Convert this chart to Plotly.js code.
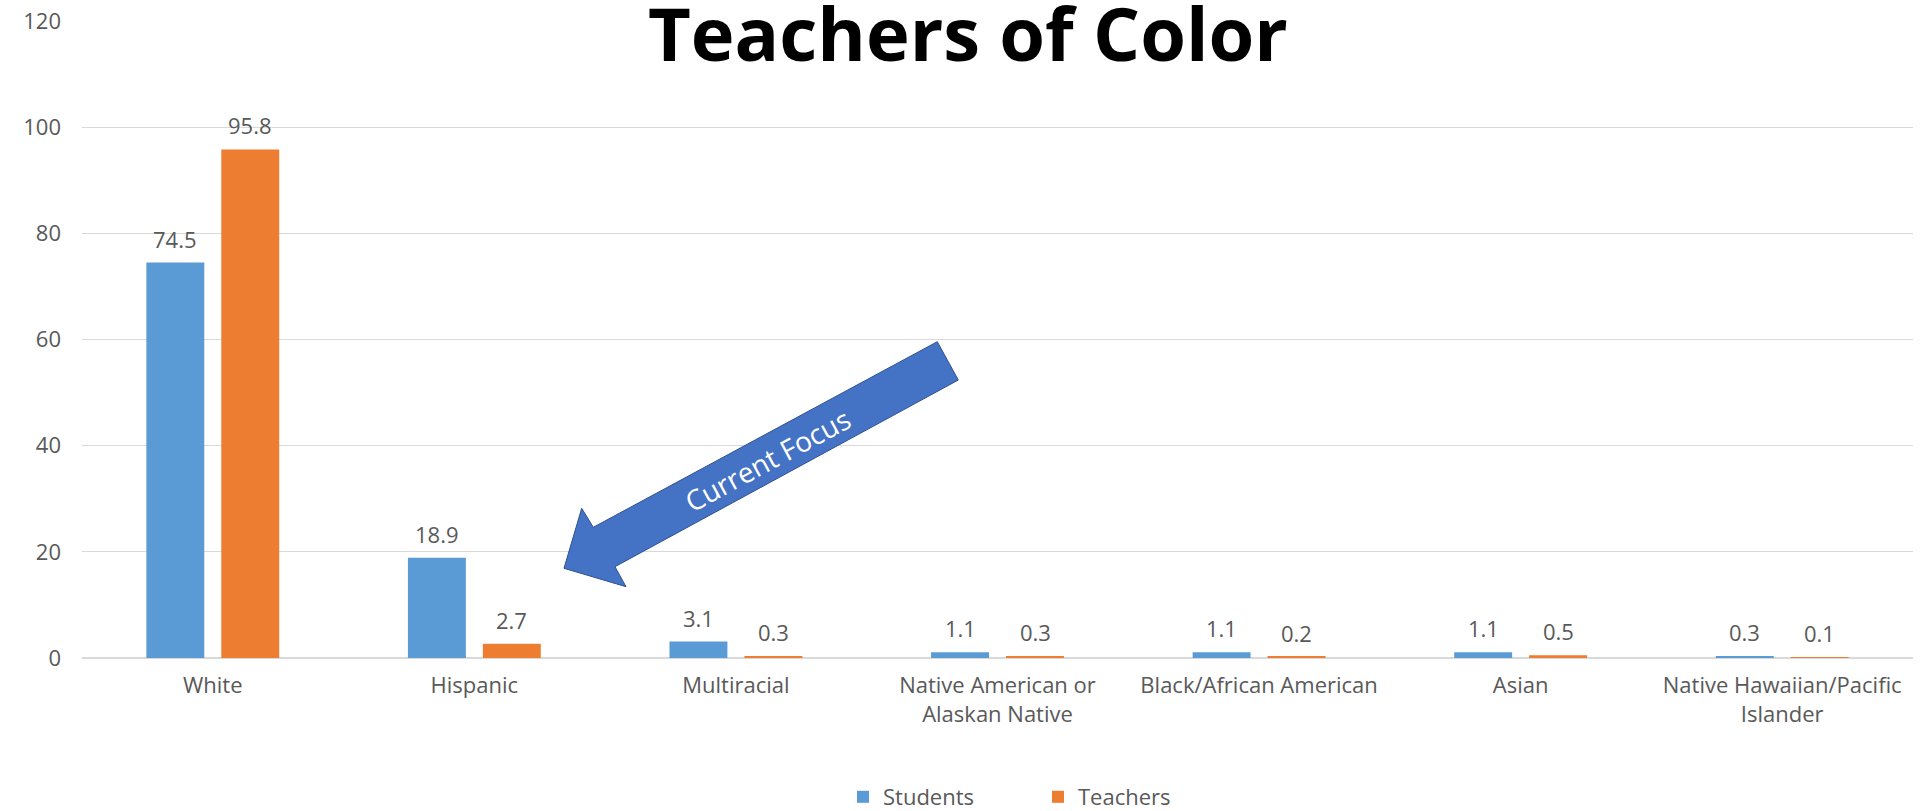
<!DOCTYPE html>
<html>
<head>
<meta charset="utf-8">
<script src="https://cdn.plot.ly/plotly-3.0.1.min.js"></script>
<style>
  html, body { margin: 0; padding: 0; background: #ffffff; }
  #chart { width: 1921px; height: 811px; }
</style>
</head>
<body>
<div id="chart"></div>
<script>
// ---- Data ----
const categories = ["White", "Hispanic", "Multiracial", "Native American or Alaskan Native",
                    "Black/African American", "Asian", "Native Hawaiian/Pacific Islander"];
const tickLabels = ["White", "Hispanic", "Multiracial", "Native American or<br>Alaskan Native",
                    "Black/African American", "Asian", "Native Hawaiian/Pacific<br>Islander"];
const students = [74.5, 18.9, 3.1, 1.1, 1.1, 1.1, 0.3];
const teachers = [95.8, 2.7, 0.3, 0.3, 0.2, 0.5, 0.1];
const seriesNames = ["Students", "Teachers"];
const chartTitle = "Teachers of Color";
const calloutText = "Current Focus";

// ---- Layout geometry (pixels) ----
const W = 1921, H = 811;
const M = { l: 82, r: 8, t: 21, b: 153 };
const plotW = W - M.l - M.r, plotH = H - M.t - M.b;
const px2x = p => (p - M.l) / plotW;
const px2y = p => (H - M.b - p) / plotH;

const FONT = "'Open Sans', 'DejaVu Sans', sans-serif";
const TXT = "#595959";
const BLUE = "#5B9BD5", ORANGE = "#ED7D31";

const traces = [
  { type: "bar", name: seriesNames[0], x: categories, y: students,
    marker: { color: BLUE }, hoverinfo: "x+y" },
  { type: "bar", name: seriesNames[1], x: categories, y: teachers,
    marker: { color: ORANGE }, hoverinfo: "x+y" }
];

// Data labels as annotations
const annotations = [];
[students, teachers].forEach((vals, si) => {
  vals.forEach((v, i) => {
    annotations.push({
      x: categories[i], y: v, xref: "x", yref: "y",
      text: v.toFixed(1), showarrow: false,
      xshift: si === 0 ? -37.5 : 37.5, yshift: 24,
      yanchor: "middle", xanchor: "center",
      font: { family: FONT, size: 22, color: TXT }
    });
  });
});

// Block arrow callout (decoration, pixel geometry -> paper coords)
const arrowPts = [[564, 568.3], [581.7, 508.3], [593.3, 527.3], [937.3, 341.7],
                  [958.3, 380], [615, 566.7], [626, 586.7]];
const arrowPath = "M" + arrowPts.map(p => px2x(p[0]).toFixed(5) + "," + px2y(p[1]).toFixed(5)).join(" L") + " Z";

annotations.push({
  xref: "paper", yref: "paper", x: px2x(767), y: px2y(460),
  text: calloutText, showarrow: false, textangle: -28.4,
  xanchor: "center", yanchor: "middle",
  font: { family: FONT, size: 28, color: "#ffffff" }
});

const layout = {
  width: W, height: H,
  margin: M,
  paper_bgcolor: "#ffffff", plot_bgcolor: "#ffffff",
  font: { family: FONT, size: 22, color: TXT },
  title: {
    text: "<b>" + chartTitle + "</b>",
    font: { family: "'Open Sans', sans-serif", size: 74, color: "#000000" },
    xref: "container", yref: "container",
    x: 968 / W, y: 1 - 35 / H, xanchor: "center", yanchor: "middle"
  },
  barmode: "group",
  bargap: 0.427,
  bargroupgap: 0.227,
  showlegend: true,
  legend: {
    orientation: "h", xref: "container", yref: "container",
    x: 843 / W, y: 1 - 797 / H, xanchor: "left", yanchor: "middle",
    font: { family: FONT, size: 22, color: TXT },
    entrywidth: 150, bgcolor: "rgba(0,0,0,0)"
  },
  xaxis: {
    type: "category",
    tickvals: categories, ticktext: tickLabels,
    showgrid: false, showline: false, zeroline: false, ticks: "",
    tickfont: { family: FONT, size: 22, color: TXT },
    ticklabelstandoff: 12, automargin: false
  },
  yaxis: {
    range: [0, 120], dtick: 20, tick0: 0,
    showgrid: true, gridcolor: "#D9D9D9", gridwidth: 1.3,
    zeroline: true, zerolinecolor: "#D9D9D9", zerolinewidth: 1.5,
    showline: false, ticks: "",
    tickfont: { family: FONT, size: 22, color: TXT },
    ticklabelstandoff: 20, automargin: false
  },
  shapes: [{
    type: "path", xref: "paper", yref: "paper", path: arrowPath,
    fillcolor: "#4472C4", line: { color: "#2F528F", width: 1 }, layer: "above"
  }],
  annotations: annotations
};

Plotly.newPlot("chart", traces, layout, { displayModeBar: false, responsive: false });
</script>
</body>
</html>
